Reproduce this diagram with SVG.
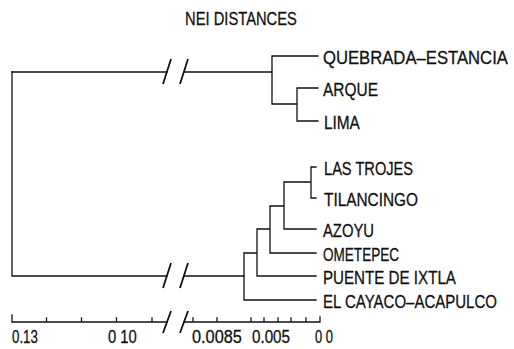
<svg xmlns="http://www.w3.org/2000/svg" width="514" height="349" viewBox="0 0 514 349">
<style>
.ln{fill:none;stroke:#111;stroke-width:1.3;stroke-linecap:square}
.sl{fill:none;stroke:#111;stroke-width:1.8}
text{font-family:"Liberation Sans",Arial,sans-serif;font-size:19px;fill:#111;stroke:#111;stroke-width:0.3}
</style>
<rect width="514" height="349" fill="#fff"/>
<text id="title" transform="translate(185,25) scale(0.776,1)">NEI DISTANCES</text>
<g id="connectors">
<path class="ln" d="M12,72 H167 M184,72 H272 M272,56 V104 M272,56 H318 M272,104 H297 M297,88 V121 M297,88 H318 M297,121 H318"/>
<path class="ln" d="M12,72 V276 M12,276 H167 M184,276 H244"/>
<path class="ln" d="M244,253 V300 M244,300 H316 M244,253 H257 M257,229 V276 M257,276 H316 M257,229 H270 M270,206 V253 M270,253 H316 M270,206 H284 M284,182 V229 M284,229 H316 M284,182 H311 M311,167 V198 M311,167 H316 M311,198 H316"/>
<path class="sl" d="M163,84 L171,59 M180,84 L188,59 M163,288 L171,263 M180,288 L188,263"/>
</g>
<g id="n-quebrada"><text transform="translate(323,64) scale(0.878,1)">QUEBRADA–ESTANCIA</text></g>
<g id="n-arque"><text transform="translate(323,96) scale(0.814,1)">ARQUE</text></g>
<g id="n-lima"><text transform="translate(324,129) scale(0.81,1)">LIMA</text></g>
<g id="n-lastrojes"><text transform="translate(324,175) scale(0.77,1)">LAS TROJES</text></g>
<g id="n-tilancingo"><text transform="translate(324,206) scale(0.81,1)">TILANCINGO</text></g>
<g id="n-azoyu"><text transform="translate(323,237) scale(0.78,1)">AZOYU</text></g>
<g id="n-ometepec"><text transform="translate(323,261) scale(0.713,1)">OMETEPEC</text></g>
<g id="n-puente"><text transform="translate(323,284) scale(0.797,1)">PUENTE DE IXTLA</text></g>
<g id="n-elcayaco"><text transform="translate(323,308) scale(0.79,1)">EL CAYACO–ACAPULCO</text></g>
<g id="axis">
<path class="ln" d="M12,322 H167 M184,322 H320 M12,322 V315 M46.5,322 V318 M81.5,322 V318 M116.5,322 V318 M152,322 V318 M193,322 V318 M217,322 V318 M251,322 V318 M264,322 V318 M278,322 V318 M291,322 V318 M306,322 V318 M320,322 V317"/>
<path class="sl" d="M163,333 L171,311 M180,333 L188,311"/>
<text transform="translate(12,343) scale(0.70,1)">0.13</text>
<text transform="translate(108,343) scale(0.78,1)">0 10</text>
<text transform="translate(192,343) scale(0.86,1)">0.0085</text>
<text transform="translate(252,343) scale(0.80,1)">0.005</text>
<text transform="translate(315,343) scale(0.68,1)">0 0</text>
</g>
</svg>
